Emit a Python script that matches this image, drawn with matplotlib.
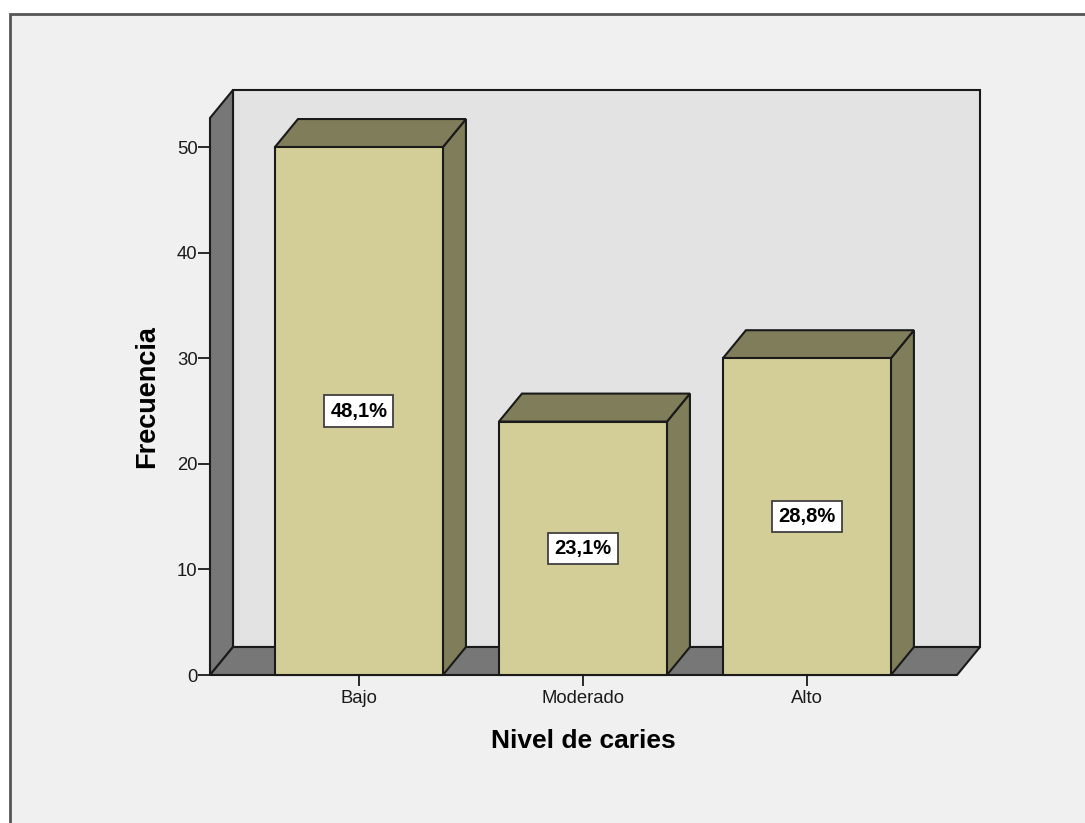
import matplotlib
matplotlib.use("Agg")
import matplotlib.pyplot as plt
from matplotlib.patches import Polygon, Rectangle

plt.rcParams['font.family'] = ['Liberation Sans', 'DejaVu Sans']

# Data
categories = ["Bajo", "Moderado", "Alto"]
frequencies = [50, 24, 30]
percent_labels = ["48,1%", "23,1%", "28,8%"]
y_ticks = [0, 10, 20, 30, 40, 50]
x_title = "Nivel de caries"
y_title = "Frecuencia"

# Styling
FRONT = "#D3CE98"
SHADE = "#807D5A"
WALL = "#777777"
BACK = "#E3E3E3"
PANEL = "#F0F0F0"
EDGE = "#1a1a1a"
LW = 1.5

W, H = 1085, 823
fig = plt.figure(figsize=(W / 100, H / 100), dpi=100, facecolor="white")

# outer panel with frame (right/bottom edges run off the canvas)
fig.patches.append(Rectangle((10 / W, -0.05), 1.2, (H - 14) / H + 0.05,
                             transform=fig.transFigure, facecolor=PANEL,
                             edgecolor="#555555", lw=2.0, zorder=-10))

# front plane of the 3D plot
left_px, right_px, top_px, bottom_px = 210, 957, 118, 675
ax = fig.add_axes([left_px / W, (H - bottom_px) / H,
                   (right_px - left_px) / W, (bottom_px - top_px) / H])
ax.patch.set_visible(False)
for s in ax.spines.values():
    s.set_visible(False)

x0, x1 = -0.665, 2.670
ymax = 52.75
ax.set_xlim(x0, x1)
ax.set_ylim(0, ymax)

# depth offsets in data units
dx = 23 / 224.0
dy = 28 / 10.56
half = 0.375

# back wall
ax.add_patch(Polygon([(x0 + dx, dy), (x1 + dx, dy), (x1 + dx, ymax + dy), (x0 + dx, ymax + dy)],
                     closed=True, facecolor=BACK, edgecolor=EDGE, lw=LW,
                     clip_on=False, zorder=1))
# left wall
ax.add_patch(Polygon([(x0, 0), (x0 + dx, dy), (x0 + dx, ymax + dy), (x0, ymax)],
                     closed=True, facecolor=WALL, edgecolor=EDGE, lw=LW,
                     clip_on=False, zorder=2))
# floor
ax.add_patch(Polygon([(x0, 0), (x1, 0), (x1 + dx, dy), (x0 + dx, dy)],
                     closed=True, facecolor=WALL, edgecolor=EDGE, lw=LW,
                     clip_on=False, zorder=2))

xs = list(range(len(categories)))
for x, v in zip(xs, frequencies):
    xl, xr = x - half, x + half
    # right side face
    ax.add_patch(Polygon([(xr, 0), (xr + dx, dy), (xr + dx, v + dy), (xr, v)],
                         closed=True, facecolor=SHADE, edgecolor=EDGE, lw=LW,
                         clip_on=False, zorder=3))
    # top face
    ax.add_patch(Polygon([(xl, v), (xr, v), (xr + dx, v + dy), (xl + dx, v + dy)],
                         closed=True, facecolor=SHADE, edgecolor=EDGE, lw=LW,
                         clip_on=False, zorder=3))

# front faces
ax.bar(xs, frequencies, width=2 * half, color=FRONT, edgecolor=EDGE,
       linewidth=LW, zorder=4, clip_on=False)

for x, v, lab in zip(xs, frequencies, percent_labels):
    ax.text(x, v / 2, lab, ha="center", va="center", fontsize=14.5,
            fontweight="bold", color="black", zorder=6,
            bbox=dict(boxstyle="square,pad=0.3", facecolor="white",
                      edgecolor="#404040", lw=1.3))

ax.set_yticks(y_ticks)
ax.set_yticklabels([str(t) for t in y_ticks])
ax.set_xticks(xs)
ax.set_xticklabels(categories)
ax.tick_params(axis="y", direction="out", length=8.5, width=1.3, pad=0.5,
               labelsize=13.3, colors="#1a1a1a")
ax.tick_params(axis="x", direction="out", length=8, width=1.3, pad=3,
               labelsize=13.3, colors="#1a1a1a")

ax.set_xlabel(x_title, fontsize=19, fontweight="bold", va="center", ha="center")
ax.xaxis.set_label_coords(0.5, (bottom_px - 741) / (bottom_px - top_px))
ax.set_ylabel(y_title, fontsize=19.5, fontweight="bold", va="center", ha="center")
ax.yaxis.set_label_coords((147 - left_px) / (right_px - left_px),
                          (bottom_px - 397) / (bottom_px - top_px))

fig.savefig("out.png", dpi=100, facecolor="white")
